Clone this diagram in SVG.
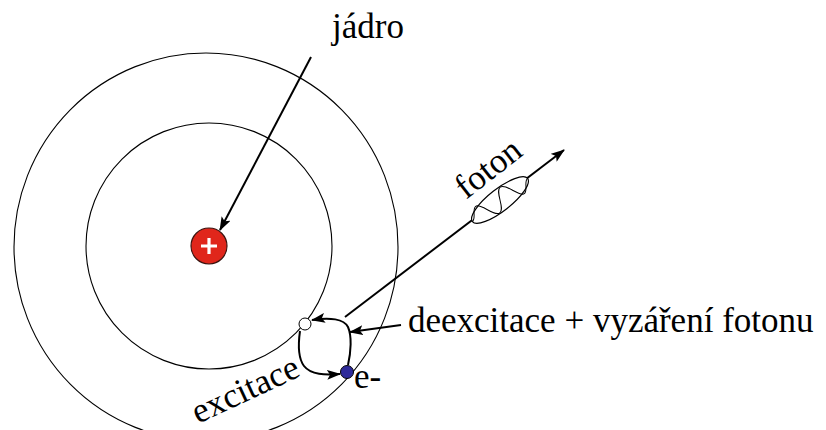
<svg xmlns="http://www.w3.org/2000/svg" width="826" height="430" viewBox="0 0 826 430">
  <defs>
    <marker id="arrow" viewBox="0 0 14 10" refX="13" refY="5" markerWidth="14" markerHeight="10" markerUnits="userSpaceOnUse" orient="auto">
      <path d="M0,0 L14,5 L0,10 L3,5 Z" fill="#000"/>
    </marker>
  </defs>
  <rect width="826" height="430" fill="#fff"/>

  <!-- electron shells -->
  <g id="orbits" fill="none" stroke="#000" stroke-width="1.1">
    <ellipse cx="206" cy="247" rx="192" ry="194"/>
    <circle cx="209" cy="246" r="123"/>
  </g>

  <!-- nucleus -->
  <g id="nucleus">
    <circle cx="209" cy="246" r="18" fill="#e0261b" stroke="#3a1410" stroke-width="1.2"/>
    <path d="M201,246 H217 M209,238 V254" stroke="#fff" stroke-width="3.2"/>
  </g>

  <!-- connectors -->
  <g id="connectors" fill="none" stroke="#000" stroke-width="2">
    <path d="M311,57 L220,230" marker-end="url(#arrow)"/>
    <path d="M345,317 L564,150" marker-end="url(#arrow)"/>
    <path d="M401,325 L350,332" marker-end="url(#arrow)"/>
    <!-- excitation: lower level up to higher level -->
    <path d="M300,331 C298,345 298,358 304,366 C311,375 325,375 340,374" marker-end="url(#arrow)"/>
    <!-- de-excitation: back down -->
    <path d="M348,365 C351,352 352,336 348,327 C344,319 330,317 312,320" marker-end="url(#arrow)"/>
  </g>

  <!-- photon wave packet -->
  <g id="photon" transform="translate(500,200) rotate(-38)">
    <ellipse cx="0" cy="0" rx="35" ry="11" fill="#fff" stroke="#000" stroke-width="1.2"/>
    <path d="M-35,0 C-30,0 -28,-10 -23,-10 C-17,-10 -15,10 -8,10 C-1,10 1,-10 8,-10 C15,-10 17,10 23,10 C28,10 30,0 35,0" fill="none" stroke="#000" stroke-width="1"/>
  </g>

  <!-- electron states -->
  <g id="state-upper">
    <circle cx="305" cy="324" r="6" fill="#fff" stroke="#000" stroke-width="1"/>
  </g>
  <g id="electron">
    <circle cx="347" cy="372" r="6.5" fill="#2e2a9a" stroke="#000" stroke-width="1"/>
  </g>

  <!-- labels -->
  <g id="labels" fill="#000">
    <text x="332" y="38" font-family="Liberation Serif" font-size="35">jádro</text>
    <text x="408" y="332" font-family="Liberation Serif" font-size="35">deexcitace + vyzáření fotonu</text>
    <text x="354" y="388" font-family="Liberation Serif" font-size="35">e-</text>
    <text transform="translate(466,200) rotate(-38)" font-family="Liberation Serif" font-size="35">foton</text>
    <text transform="translate(198,424) rotate(-25)" font-family="Liberation Serif" font-size="35">excitace</text>
  </g>
</svg>
